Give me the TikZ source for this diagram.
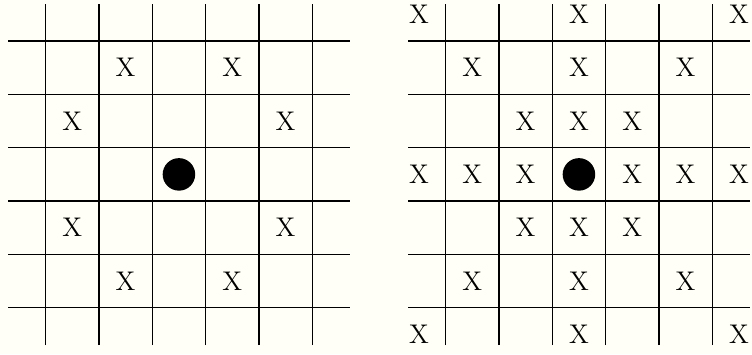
\documentclass[tikz,border=0pt]{standalone}
\usepackage{tikz}
\definecolor{paper}{RGB}{255,255,247}
\tikzset{
  gridline/.style={line width=0.7pt},
  xmark/.style={font=\Large, inner sep=0pt},
  piece/.style={circle, fill=black, inner sep=0pt, minimum size=0.61cm}
}
\begin{document}
\begin{tikzpicture}[x=1cm, y=1cm, line cap=butt]
\def\ext{3.2}
\def\off{7.5}
\fill[paper] (-3.355,-3.37) rectangle (10.745,3.27);
\useasboundingbox (-3.355,-3.37) rectangle (10.745,3.27);
% knight board
\foreach \k in {-2.5,-1.5,...,2.5} {
  \draw[gridline] (\k,-\ext) -- (\k,\ext);
  \draw[gridline] (-\ext,\k) -- (\ext,\k);
}
\node[piece] (knight) at (0,0) {};
\foreach \i/\p in {1/{-1,2}, 2/{1,2}, 3/{-2,1}, 4/{2,1},
                   5/{-2,-1}, 6/{2,-1}, 7/{-1,-2}, 8/{1,-2}}
  \node[xmark] (kx\i) at (\p) {X};
% queen board
\begin{scope}[xshift=\off cm]
\foreach \k in {-2.5,-1.5,...,2.5} {
  \draw[gridline] (\k,-\ext) -- (\k,\ext);
  \draw[gridline] (-\ext,\k) -- (\ext,\k);
}
\node[piece] (queen) at (0,0) {};
\foreach \d in {1,2,3} {
  \node[xmark] (qn\d) at (0,\d) {X};
  \node[xmark] (qs\d) at (0,-\d) {X};
  \node[xmark] (qe\d) at (\d,0) {X};
  \node[xmark] (qw\d) at (-\d,0) {X};
  \node[xmark] (qne\d) at (\d,\d) {X};
  \node[xmark] (qnw\d) at (-\d,\d) {X};
  \node[xmark] (qse\d) at (\d,-\d) {X};
  \node[xmark] (qsw\d) at (-\d,-\d) {X};
}
\end{scope}
\end{tikzpicture}
\end{document}
